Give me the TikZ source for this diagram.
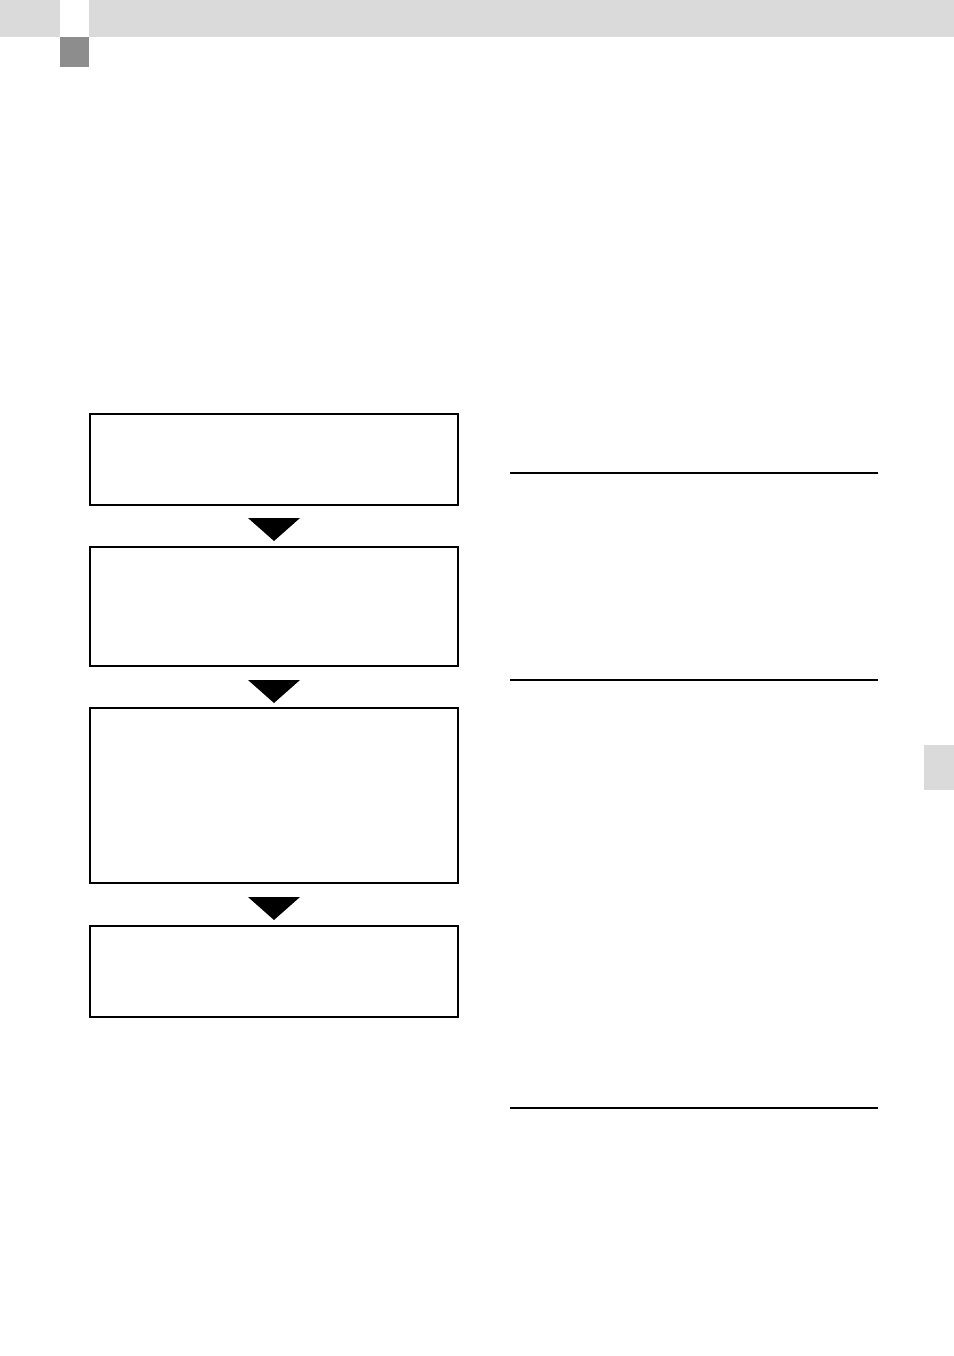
\documentclass[tikz,border=0pt]{standalone}
\usetikzlibrary{fit}
\definecolor{hdrgray}{HTML}{DADADA}
\definecolor{darkgray}{HTML}{8D8D8D}
\begin{document}
\begin{tikzpicture}[x=0.5pt,y=-0.5pt,
  stepbox/.style={draw=black,line width=0.75pt,inner sep=0pt,outer sep=0pt,fill=white},
  lastbox/.style={stepbox,line width=1pt},
  flowtri/.style={fill=black,draw=none},
  rule/.style={draw=black,line width=0.6pt}]
\useasboundingbox[fill=white] (0,0) rectangle (954,1356);
% header band
\fill[hdrgray] (0,0) rectangle (60,37);
\fill[hdrgray] (89,0) rectangle (954,37);
\fill[darkgray] (60,37) rectangle (89,67);
% side tab
\fill[hdrgray] (924,745) rectangle (954,790);
% boxes
\node[stepbox,fit={(90,414) (458,505)}] (b1) {};
\node[stepbox,fit={(90,547) (458,666)}] (b2) {};
\node[stepbox,fit={(90,708) (458,883)}] (b3) {};
\node[lastbox,fit={(90,926) (458,1017)}] (b4) {};
% triangles
\fill[flowtri] (248,518) -- (300,518) -- (274,541) -- cycle;
\fill[flowtri] (248,680) -- (300,680) -- (274,703) -- cycle;
\fill[flowtri] (248,897) -- (300,897) -- (274,920) -- cycle;
% right rules
\coordinate (r1a) at (510,473); \coordinate (r1b) at (878,473);
\coordinate (r2a) at (510,680); \coordinate (r2b) at (878,680);
\coordinate (r3a) at (510,1108); \coordinate (r3b) at (878,1108);
\draw[rule] (r1a) -- (r1b);
\draw[rule] (r2a) -- (r2b);
\draw[rule] (r3a) -- (r3b);
\end{tikzpicture}
\end{document}
